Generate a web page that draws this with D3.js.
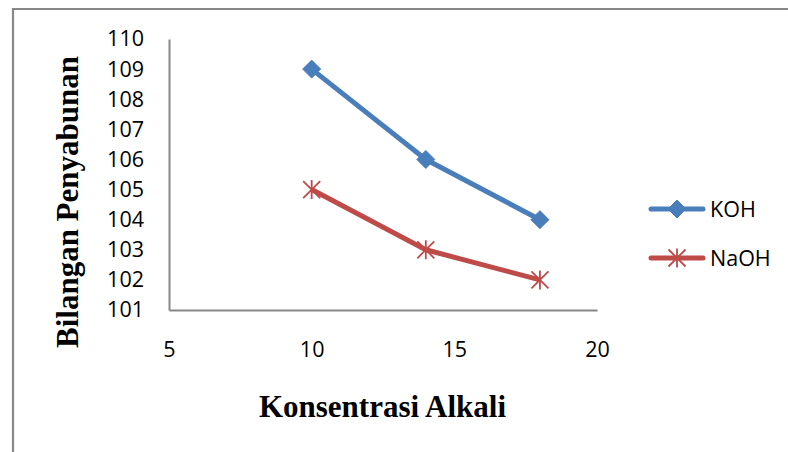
<!DOCTYPE html>
<html><head><meta charset="utf-8">
<script src="https://cdn.jsdelivr.net/npm/d3@7"></script>
<style>html,body{margin:0;padding:0;background:#fff;overflow:hidden}</style>
</head><body>
<svg id="c" width="788" height="452"></svg>
<script>
const xValues = [10, 14, 18];
const kohValues = [109, 106, 104];
const naohValues = [105, 103, 102];
const seriesNames = ["KOH", "NaOH"];
const xTicks = [5, 10, 15, 20];
const yTicks = [101, 102, 103, 104, 105, 106, 107, 108, 109, 110];
const xTitle = "Konsentrasi Alkali";
const yTitle = "Bilangan Penyabunan";

const colors = ["#4A7EBB", "#BE4B48"];
const svg = d3.select("#c");
const x = d3.scaleLinear().domain([5, 20]).range([169, 597]);
const y = d3.scaleLinear().domain([101, 110]).range([310, 39]);
const tickFont = "'Open Sans', 'Noto Sans', sans-serif";

// outer border (extends off right/bottom)
svg.append("path").attr("d", "M13,460 L13,9 L800,9")
  .attr("fill", "none").attr("stroke", "#888").attr("stroke-width", 2.2);

// y axis
const ya = svg.append("g").attr("transform", "translate(169,0)")
  .call(d3.axisLeft(y).tickValues(yTicks).tickSize(0).tickPadding(25).tickFormat(d3.format("d")));
ya.select(".domain").attr("stroke", "#888").attr("stroke-width", 2);
ya.selectAll("text").attr("font-family", tickFont).attr("font-size", 21.5).attr("fill", "#000");

// x axis
const xa = svg.append("g").attr("transform", "translate(0,310)")
  .call(d3.axisBottom(x).tickValues(xTicks).tickSize(0).tickPadding(32).tickFormat(d3.format("d")));
xa.select(".domain").attr("stroke", "#888").attr("stroke-width", 2);
xa.selectAll("text").attr("font-family", tickFont).attr("font-size", 21.5).attr("fill", "#000");

// titles
svg.append("text").attr("x", 382.5).attr("y", 417).attr("text-anchor", "middle")
  .attr("font-family", "'Liberation Serif', serif").attr("font-weight", "bold")
  .attr("font-size", 31).attr("fill", "#000").text(xTitle);
svg.append("text").attr("transform", "translate(78,202) rotate(-90)").attr("text-anchor", "middle")
  .attr("font-family", "'Liberation Serif', serif").attr("font-weight", "bold")
  .attr("font-size", 31).attr("fill", "#000").text(yTitle);

const line = d3.line().x(d => x(d[0])).y(d => y(d[1]));
const series = [kohValues, naohValues];

function diamond(g, cx, cy, c) {
  const r = 9;
  g.append("path").attr("d", `M${cx},${cy - r}L${cx + r},${cy}L${cx},${cy + r}L${cx - r},${cy}Z`)
    .attr("fill", c).attr("stroke", c).attr("stroke-width", 1);
}
function star(g, cx, cy, c) {
  const r = 8.5;
  const p = `M${cx - r},${cy - r}L${cx + r},${cy + r}M${cx - r},${cy + r}L${cx + r},${cy - r}M${cx},${cy - r - 1}L${cx},${cy + r + 1}`;
  g.append("path").attr("d", p).attr("stroke", c).attr("stroke-width", 1.8).attr("fill", "none");
}

series.forEach((vals, i) => {
  const pts = xValues.map((xv, j) => [xv, vals[j]]);
  svg.append("path").datum(pts).attr("d", line).attr("fill", "none")
    .attr("stroke", colors[i]).attr("stroke-width", 5).attr("stroke-linejoin", "round");
  const g = svg.append("g");
  pts.forEach(p => (i === 0 ? diamond : star)(g, x(p[0]), y(p[1]), colors[i]));
});

// legend
const legY = [209, 258];
seriesNames.forEach((name, i) => {
  const g = svg.append("g");
  g.append("line").attr("x1", 651).attr("x2", 703).attr("y1", legY[i]).attr("y2", legY[i])
    .attr("stroke", colors[i]).attr("stroke-width", 5).attr("stroke-linecap", "round");
  (i === 0 ? diamond : star)(g, 677, legY[i], colors[i]);
  g.append("text").attr("x", 710).attr("y", legY[i]).attr("dy", "0.35em")
    .attr("font-family", tickFont).attr("font-size", 21.5).attr("fill", "#000").text(name);
});
</script>
</body></html>
